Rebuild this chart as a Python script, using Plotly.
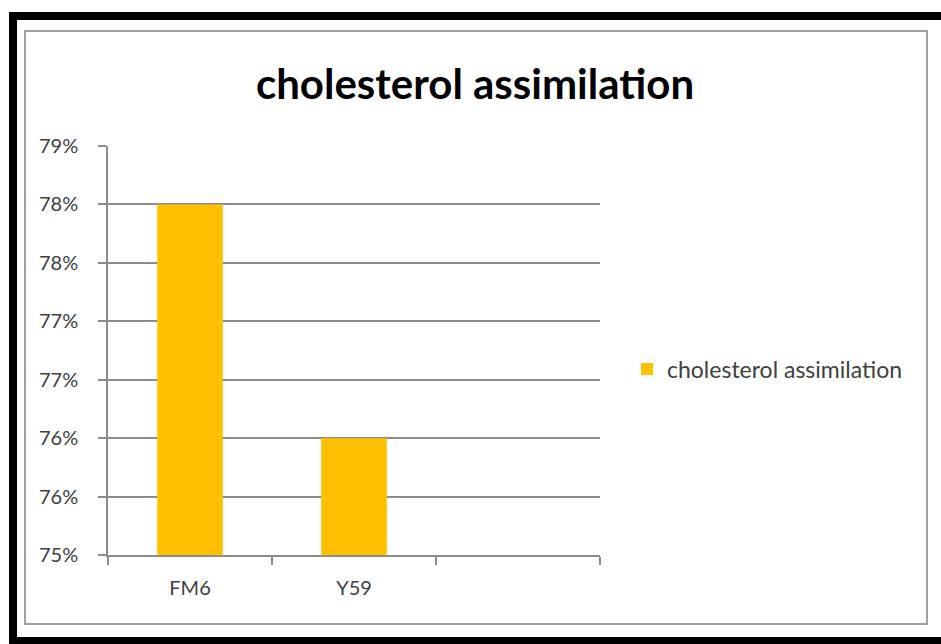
import plotly.graph_objects as go

# data
categories = ["FM6", "Y59", " "]
assimilation = [0.78, 0.76, None]
series_name = "cholesterol assimilation"
y_tickvals = [0.750, 0.755, 0.760, 0.765, 0.770, 0.775, 0.780, 0.785]
y_ticktext = ["75%", "76%", "76%", "77%", "77%", "78%", "78%", "79%"]

W, H = 941, 644
# plot area in pixels
L, R, T, B = 108, 600, 146, 555


def px_x(x):
    return (x - L) / (R - L)


def px_y(y):
    return (B - y) / (B - T)


GOLD = "#FFC000"
GRID = "#8c8c8c"
TXT = "#404040"
FONT = "Lato, 'Open Sans', sans-serif"

fig = go.Figure()
fig.add_trace(go.Bar(
    x=categories,
    y=assimilation,
    name=series_name,
    marker=dict(color=GOLD, line=dict(width=0)),
    showlegend=True,
))

fig.update_layout(
    width=W, height=H,
    margin=dict(l=L, r=W - R, t=T, b=H - B, pad=0),
    plot_bgcolor="white",
    paper_bgcolor="white",
    font=dict(family=FONT, color=TXT, size=20),
    bargap=0.6,
    title=dict(
        text="<b>cholesterol assimilation</b>",
        x=475 / W, xref="container", xanchor="center",
        y=1 - 84 / H, yref="container", yanchor="middle",
        font=dict(family=FONT, size=42, color="#000000"),
    ),
    xaxis=dict(
        type="category",
        categoryorder="array",
        categoryarray=categories,
        range=[-0.5, 2.5],
        tickson="boundaries",
        ticks="outside",
        ticklen=8,
        tickwidth=1.5,
        tickcolor=GRID,
        showline=True,
        linecolor=GRID,
        linewidth=1.5,
        showgrid=False,
        ticklabelstandoff=14,
        tickfont=dict(size=20, color=TXT),
        fixedrange=True,
    ),
    yaxis=dict(
        range=[0.75, 0.785],
        tickvals=y_tickvals,
        ticktext=y_ticktext,
        ticks="outside",
        ticklen=8,
        tickwidth=1.5,
        tickcolor=GRID,
        showline=True,
        linecolor=GRID,
        linewidth=1.5,
        showgrid=True,
        gridcolor=GRID,
        gridwidth=1.5,
        zeroline=False,
        ticklabelstandoff=16,
        tickfont=dict(size=20, color=TXT),
        fixedrange=True,
    ),
    legend=dict(
        x=px_x(627), xanchor="left",
        y=px_y(369), yanchor="middle",
        font=dict(size=23, color=TXT),
        bgcolor="rgba(0,0,0,0)",
        itemwidth=30,
    ),
    shapes=[
        # thick black outer frame (right side falls outside the picture)
        dict(type="rect", xref="paper", yref="paper",
             x0=px_x(13), x1=px_x(990), y0=px_y(641), y1=px_y(16),
             line=dict(color="black", width=8), layer="above"),
        # grey chart-area border
        dict(type="rect", xref="paper", yref="paper",
             x0=px_x(25), x1=px_x(927), y0=px_y(624), y1=px_y(31),
             line=dict(color="#a0a0a0", width=2), layer="above"),
    ],
)

fig.write_html(
    "out.html",
    config={"displayModeBar": False},
    post_script="document.body.style.margin='0';document.body.style.overflow='hidden';",
)
